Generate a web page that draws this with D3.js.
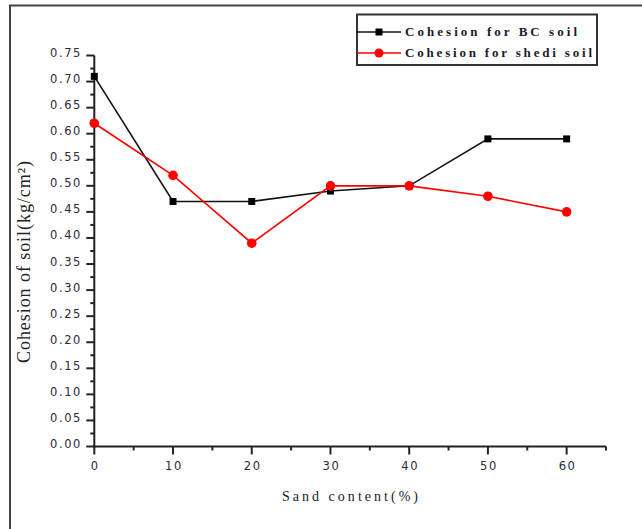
<!DOCTYPE html>
<html>
<head>
<meta charset="utf-8">
<script src="https://cdn.jsdelivr.net/npm/d3@7"></script>
<style>
  html, body { margin: 0; padding: 0; background: #fff; }
  svg { display: block; }
</style>
</head>
<body>
<svg id="chart" width="642" height="529"></svg>
<script>
// ---- data ----
const sandContent = [0, 10, 20, 30, 40, 50, 60];
const cohesionBC = [0.71, 0.47, 0.47, 0.49, 0.50, 0.59, 0.59];
const cohesionShedi = [0.62, 0.52, 0.39, 0.50, 0.50, 0.48, 0.45];
const seriesNames = ["Cohesion for BC soil", "Cohesion for shedi soil"];
const yTickValues = d3.range(0, 0.751, 0.05);
const xTickValues = [0, 10, 20, 30, 40, 50, 60];
const xTitle = "Sand content(%)";
const yTitle = "Cohesion of soil(kg/cm²)";

const svg = d3.select("#chart");

// outer frame (left + top visible)
svg.append("rect")
  .attr("x", 10).attr("y", 5.5)
  .attr("width", 700).attr("height", 600)
  .attr("fill", "none").attr("stroke", "#444").attr("stroke-width", 2);

const x = d3.scaleLinear().domain([0, 65]).range([94.3, 606]);
const y = d3.scaleLinear().domain([0, 0.75]).range([446.5, 55.5]);

const axisColor = "#222";
const labelFont = "'DejaVu Sans', sans-serif";
const serif = "'Liberation Serif', 'Times New Roman', serif";

// minor ticks
const yMinor = d3.range(0.025, 0.75, 0.05);
const xMinor = [5, 15, 25, 35, 45, 55, 65];

const gy = svg.append("g");
gy.append("line")
  .attr("x1", x(0)).attr("x2", x(0))
  .attr("y1", y(0.75)).attr("y2", y(0) + 1)
  .attr("stroke", axisColor).attr("stroke-width", 2);
gy.selectAll("line.maj").data(yTickValues).join("line").attr("class", "maj")
  .attr("x1", x(0) - 8).attr("x2", x(0))
  .attr("y1", d => y(d)).attr("y2", d => y(d))
  .attr("stroke", axisColor).attr("stroke-width", 2);
gy.selectAll("line.min").data(yMinor).join("line").attr("class", "min")
  .attr("x1", x(0) - 4).attr("x2", x(0))
  .attr("y1", d => y(d)).attr("y2", d => y(d))
  .attr("stroke", axisColor).attr("stroke-width", 2);
gy.selectAll("text").data(yTickValues).join("text")
  .attr("x", 82).attr("y", d => y(d) - 2)
  .attr("text-anchor", "end").attr("dominant-baseline", "middle")
  .attr("font-family", labelFont).attr("font-size", 11.5)
  .attr("letter-spacing", "1.6px")
  .attr("fill", "#2a2a3a")
  .text(d => d3.format(".2f")(d));

const gx = svg.append("g");
gx.append("line")
  .attr("x1", x(0) - 1).attr("x2", x(65))
  .attr("y1", y(0)).attr("y2", y(0))
  .attr("stroke", axisColor).attr("stroke-width", 2);
gx.selectAll("line.maj").data(xTickValues).join("line").attr("class", "maj")
  .attr("x1", d => x(d)).attr("x2", d => x(d))
  .attr("y1", y(0)).attr("y2", y(0) + 8)
  .attr("stroke", axisColor).attr("stroke-width", 2);
gx.selectAll("line.min").data(xMinor).join("line").attr("class", "min")
  .attr("x1", d => x(d)).attr("x2", d => x(d))
  .attr("y1", y(0)).attr("y2", y(0) + 4)
  .attr("stroke", axisColor).attr("stroke-width", 2);
gx.selectAll("text").data(xTickValues).join("text")
  .attr("x", d => x(d) + 1).attr("y", 466)
  .attr("text-anchor", "middle").attr("dominant-baseline", "middle")
  .attr("font-family", labelFont).attr("font-size", 11.5)
  .attr("letter-spacing", "1.6px")
  .attr("fill", "#2a2a3a")
  .text(d => d);

// axis titles
svg.append("text")
  .attr("x", 350).attr("y", 498)
  .attr("text-anchor", "middle").attr("dominant-baseline", "middle")
  .attr("font-family", serif).attr("font-size", 14)
  .attr("textLength", 136).attr("lengthAdjust", "spacing")
  .attr("fill", "#222")
  .text(xTitle);

svg.append("text")
  .attr("transform", "translate(26,262) rotate(-90)")
  .attr("text-anchor", "middle").attr("dominant-baseline", "middle")
  .attr("font-family", serif).attr("font-size", 18)
  .attr("textLength", 202).attr("lengthAdjust", "spacing")
  .attr("fill", "#222")
  .text(yTitle);

// series
const line = d3.line().x(d => x(d[0])).y(d => y(d[1]));
const bcPts = sandContent.map((s, i) => [s, cohesionBC[i]]);
const shPts = sandContent.map((s, i) => [s, cohesionShedi[i]]);

svg.append("path").datum(bcPts).attr("d", line)
  .attr("fill", "none").attr("stroke", "#111").attr("stroke-width", 1.6);
svg.selectAll("rect.bc").data(bcPts).join("rect").attr("class", "bc")
  .attr("x", d => x(d[0]) - 3.5).attr("y", d => y(d[1]) - 3.5)
  .attr("width", 7).attr("height", 7).attr("fill", "#000");

svg.append("path").datum(shPts).attr("d", line)
  .attr("fill", "none").attr("stroke", "#ff0000").attr("stroke-width", 1.6);
svg.selectAll("circle.sh").data(shPts).join("circle").attr("class", "sh")
  .attr("cx", d => x(d[0])).attr("cy", d => y(d[1])).attr("r", 4.8)
  .attr("fill", "#ff0000");

// legend
const lg = svg.append("g");
lg.append("rect")
  .attr("x", 357).attr("y", 14.5).attr("width", 240).attr("height", 50.5)
  .attr("fill", "#fff").attr("stroke", "#333").attr("stroke-width", 2);
const legendRows = [
  { name: seriesNames[0], color: "#111", shape: "square", y: 32, len: 172 },
  { name: seriesNames[1], color: "#ff0000", shape: "circle", y: 53, len: 187 }
];
legendRows.forEach(r => {
  lg.append("line").attr("x1", 357).attr("x2", 401)
    .attr("y1", r.y).attr("y2", r.y)
    .attr("stroke", r.color).attr("stroke-width", 1.6);
  if (r.shape === "square") {
    lg.append("rect").attr("x", 379 - 3.5).attr("y", r.y - 3.5)
      .attr("width", 7).attr("height", 7).attr("fill", "#000");
  } else {
    lg.append("circle").attr("cx", 379).attr("cy", r.y).attr("r", 4.5)
      .attr("fill", "#ff0000");
  }
  lg.append("text").attr("x", 405).attr("y", r.y + 1)
    .attr("dominant-baseline", "middle")
    .attr("font-family", serif).attr("font-size", 13).attr("font-weight", "bold")
    .attr("textLength", r.len).attr("lengthAdjust", "spacing")
    .attr("fill", "#1a1a2a")
    .text(r.name);
});
</script>
</body>
</html>
